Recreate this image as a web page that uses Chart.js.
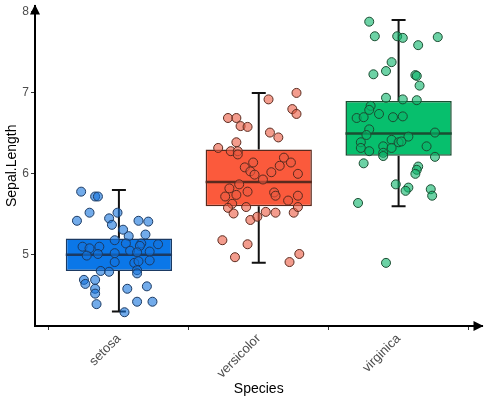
<!DOCTYPE html>
<html>
<head>
<meta charset="utf-8">
<script src="https://cdn.jsdelivr.net/npm/chart.js@4.4.1/dist/chart.umd.min.js"></script>
<style>
  body { margin: 0; background: #fff; }
  #wrap { width: 488px; height: 402px; }
</style>
</head>
<body>
<div id="wrap"><canvas id="chart"></canvas></div>
<script>
// 종별 이름과 박스플롯 통계값
const species = ['setosa', 'versicolor', 'virginica'];
const whiskerLo = [4.3, 4.9, 5.6];
const q1 = [4.8, 5.6, 6.225];
const median = [5.0, 5.9, 6.5];
const q3 = [5.2, 6.3, 6.9];
const whiskerHi = [5.8, 7.0, 7.9];
const yTicks = [5, 6, 7, 8];

// 지터 점
const setosaX = [0.73,0.83,0.85,0.79,0.70,0.93,0.99,0.95,1.14,1.21,1.03,1.07,1.19,0.97,1.05,1.16,1.15,1.28,0.74,0.79,0.86,0.77,0.85,0.97,1.08,1.13,1.22,1.11,1.14,1.22,0.97,0.87,0.93,1.13,1.13,0.75,0.76,0.83,0.83,0.83,1.06,1.20,0.84,1.13,1.24,1.04];
const setosaY = [5.78,5.72,5.72,5.52,5.42,5.45,5.52,5.37,5.42,5.41,5.31,5.23,5.25,5.18,5.14,5.14,5.11,5.13,5.10,5.08,5.10,4.99,5.01,5.02,5.05,5.03,5.04,4.90,4.92,4.93,4.91,4.80,4.79,4.81,4.77,4.69,4.64,4.69,4.58,4.52,4.58,4.61,4.39,4.42,4.42,4.29];
const versicolorX = [2.27,2.07,2.24,2.27,1.78,1.84,1.87,1.92,2.08,2.14,1.84,1.71,1.80,1.85,1.85,2.18,1.96,2.23,1.90,2.15,1.94,1.97,2.09,2.28,2.03,1.79,1.86,1.92,1.76,1.84,2.11,2.12,2.21,2.28,1.81,1.78,1.91,1.82,1.94,1.99,2.05,2.12,2.25,2.28,1.74,1.92,1.83,2.22,2.29];
const versicolorY = [7.00,6.92,6.80,6.74,6.69,6.69,6.59,6.58,6.51,6.45,6.39,6.32,6.28,6.28,6.24,6.20,6.14,6.14,6.08,6.10,6.03,5.99,6.02,6.00,5.93,5.82,5.87,5.78,5.72,5.74,5.77,5.73,5.67,5.73,5.63,5.58,5.59,5.51,5.43,5.47,5.53,5.52,5.52,5.59,5.18,5.13,4.97,4.91,5.01];
const virginicaX = [2.79,2.83,2.99,3.03,3.28,3.14,2.95,2.91,2.82,3.12,3.13,3.15,2.91,3.03,3.13,2.80,2.79,2.86,2.70,2.75,2.96,3.03,2.79,2.77,3.26,3.07,2.73,2.73,2.79,2.89,2.95,2.95,3.00,3.02,2.89,2.89,3.20,3.26,2.75,3.14,3.13,3.12,2.98,3.07,3.05,3.23,3.24,2.71,2.91];
const virginicaY = [7.88,7.70,7.70,7.68,7.69,7.59,7.38,7.27,7.23,7.22,7.21,7.09,6.94,6.92,6.91,6.84,6.79,6.74,6.69,6.70,6.70,6.71,6.55,6.48,6.51,6.46,6.39,6.32,6.28,6.34,6.42,6.32,6.39,6.40,6.26,6.22,6.34,6.21,6.13,6.09,6.05,6.00,5.87,5.83,5.79,5.81,5.73,5.64,4.90];

// 색상
const boxColors = ['#0b77e8', '#fb5a3c', '#07bf6d'];
const edgeColors = ['#1b3a63', '#5a2a1e', '#1b4d32'];
const pointColors = ['rgba(20,115,220,0.6)', 'rgba(235,90,65,0.6)', 'rgba(10,180,105,0.6)'];

const boxHalf = 0.38;
const capHalf = 0.05;
const fontFamily = "'Liberation Sans', Arial, sans-serif";

// 수염 선 (null 로 구간을 끊음)
var whiskerData = [];
species.forEach(function (s, i) {
    var x = i + 1;
    whiskerData.push({x: x, y: whiskerLo[i]}, {x: x, y: q1[i]}, {x: x, y: null});
    whiskerData.push({x: x, y: q3[i]}, {x: x, y: whiskerHi[i]}, {x: x, y: null});
    whiskerData.push({x: x - capHalf, y: whiskerLo[i]}, {x: x + capHalf, y: whiskerLo[i]}, {x: x, y: null});
    whiskerData.push({x: x - capHalf, y: whiskerHi[i]}, {x: x + capHalf, y: whiskerHi[i]}, {x: x, y: null});
});

var medianSets = species.map(function (s, i) {
    return {
        type: 'line',
        data: [{x: i + 1 - boxHalf, y: median[i]}, {x: i + 1 + boxHalf, y: median[i]}],
        borderColor: edgeColors[i],
        borderWidth: 2.5,
        pointRadius: 0,
        order: 1
    };
});

var jitterX = [setosaX, versicolorX, virginicaX];
var jitterY = [setosaY, versicolorY, virginicaY];
var pointSets = species.map(function (s, i) {
    return {
        type: 'scatter',
        label: s,
        data: jitterX[i].map(function (x, j) { return {x: x, y: jitterY[i][j]}; }),
        backgroundColor: pointColors[i],
        borderColor: edgeColors[i],
        borderWidth: 1,
        pointRadius: 4.5,
        order: 0
    };
});

// 축 끝 화살표
const arrowPlugin = {
    id: 'arrows',
    afterDraw: function (c) {
        var a = c.chartArea, ctx = c.ctx;
        ctx.save();
        ctx.fillStyle = '#000';
        ctx.beginPath();
        ctx.moveTo(a.left, a.top - 1);
        ctx.lineTo(a.left - 5, a.top + 9);
        ctx.lineTo(a.left + 5, a.top + 9);
        ctx.closePath();
        ctx.fill();
        ctx.beginPath();
        ctx.moveTo(a.right + 1, a.bottom);
        ctx.lineTo(a.right - 9, a.bottom - 5);
        ctx.lineTo(a.right - 9, a.bottom + 5);
        ctx.closePath();
        ctx.fill();
        ctx.restore();
    }
};

new Chart(document.getElementById('chart'), {
    type: 'scatter',
    data: {
        datasets: pointSets.concat(medianSets, [
            {
                type: 'bar',
                data: species.map(function (s, i) { return {x: i + 1, y: [q1[i], q3[i]]}; }),
                backgroundColor: boxColors,
                borderColor: edgeColors,
                borderWidth: 1.5,
                borderSkipped: false,
                barPercentage: boxHalf * 2,
                categoryPercentage: 1,
                order: 2
            },
            {
                type: 'line',
                data: whiskerData,
                borderColor: '#111',
                borderWidth: 2,
                pointRadius: 0,
                spanGaps: false,
                order: 3
            }
        ])
    },
    options: {
        responsive: true,
        maintainAspectRatio: false,
        animation: false,
        layout: {padding: {top: 2, right: 5}},
        plugins: {legend: {display: false}, tooltip: {enabled: false}},
        scales: {
            x: {
                type: 'linear',
                min: 0.4,
                max: 3.6,
                offset: false,
                afterBuildTicks: function (scale) {
                    scale.ticks = species.map(function (s, i) { return {value: i + 1}; });
                },
                afterFit: function (scale) {
                    scale.height = 76;
                    scale.paddingLeft = 0;
                    scale.paddingRight = 0;
                },
                ticks: {
                    autoSkip: false,
                    minRotation: 45,
                    maxRotation: 45,
                    padding: 1,
                    color: '#4d4d4d',
                    font: {family: fontFamily, size: 13},
                    callback: function (v) { return species[v - 1]; }
                },
                grid: {drawOnChartArea: false, drawTicks: true, tickLength: 4, color: '#333'},
                border: {display: true, color: '#000', width: 2},
                title: {display: true, text: 'Species', color: '#000', font: {family: fontFamily, size: 14}, padding: {top: 4, bottom: 4}}
            },
            y: {
                type: 'linear',
                min: 4.12,
                max: 8.08,
                afterBuildTicks: function (scale) {
                    scale.ticks = yTicks.map(function (v) { return {value: v}; });
                },
                afterFit: function (scale) {
                    scale.width = 35;
                    scale.paddingTop = 0;
                    scale.paddingBottom = 0;
                },
                ticks: {
                    padding: 2,
                    color: '#4d4d4d',
                    font: {family: fontFamily, size: 12}
                },
                grid: {drawOnChartArea: false, drawTicks: true, tickLength: 4, color: '#333'},
                border: {display: true, color: '#000', width: 2},
                title: {display: true, text: 'Sepal.Length', color: '#000', font: {family: fontFamily, size: 14}, padding: {top: 4, bottom: 4}}
            }
        }
    },
    plugins: [arrowPlugin]
});
</script>
</body>
</html>
